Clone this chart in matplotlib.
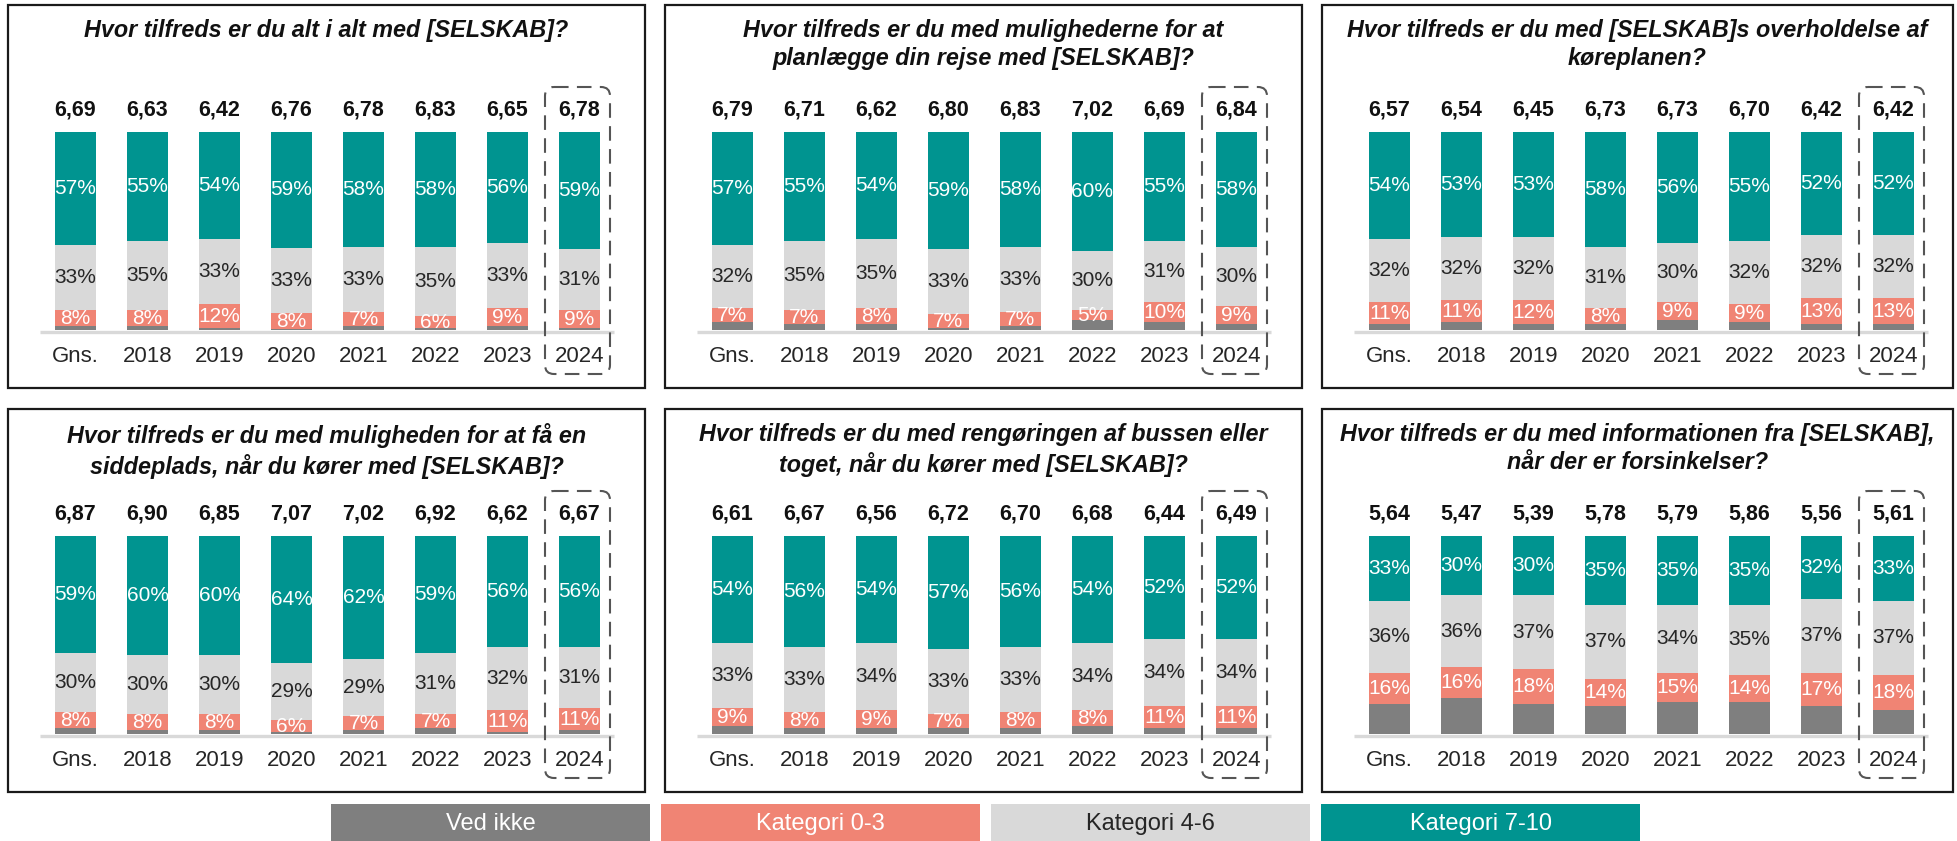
import matplotlib
matplotlib.use("Agg")
import matplotlib.pyplot as plt
from matplotlib.patches import Rectangle, FancyBboxPatch

W, H = 1957, 841

categories = ["Gns.", "2018", "2019", "2020", "2021", "2022", "2023", "2024"]

titles = [
    "Hvor tilfreds er du alt i alt med [SELSKAB]?",
    "Hvor tilfreds er du med mulighederne for at\nplanlægge din rejse med [SELSKAB]?",
    "Hvor tilfreds er du med [SELSKAB]s overholdelse af\nkøreplanen?",
    "Hvor tilfreds er du med muligheden for at få en\nsiddeplads, når du kører med [SELSKAB]?",
    "Hvor tilfreds er du med rengøringen af bussen eller\ntoget, når du kører med [SELSKAB]?",
    "Hvor tilfreds er du med informationen fra [SELSKAB],\nnår der er forsinkelser?",
]

# gennemsnit pr. spørgsmål
means = [
    ["6,69", "6,63", "6,42", "6,76", "6,78", "6,83", "6,65", "6,78"],
    ["6,79", "6,71", "6,62", "6,80", "6,83", "7,02", "6,69", "6,84"],
    ["6,57", "6,54", "6,45", "6,73", "6,73", "6,70", "6,42", "6,42"],
    ["6,87", "6,90", "6,85", "7,07", "7,02", "6,92", "6,62", "6,67"],
    ["6,61", "6,67", "6,56", "6,72", "6,70", "6,68", "6,44", "6,49"],
    ["5,64", "5,47", "5,39", "5,78", "5,79", "5,86", "5,56", "5,61"],
]

ved_ikke = [
    [2, 2, 1, 0.5, 2, 1, 2, 1],
    [4, 3, 3, 1, 2, 5, 4, 3],
    [3, 4, 3, 3, 5, 4, 3, 3],
    [3, 2, 2, 1, 2, 3, 1, 2],
    [4, 3, 3, 3, 3, 4, 3, 3],
    [15, 18, 15, 14, 16, 16, 14, 12],
]
kat_0_3 = [
    [8, 8, 12, 8, 7, 6, 9, 9],
    [7, 7, 8, 7, 7, 5, 10, 9],
    [11, 11, 12, 8, 9, 9, 13, 13],
    [8, 8, 8, 6, 7, 7, 11, 11],
    [9, 8, 9, 7, 8, 8, 11, 11],
    [16, 16, 18, 14, 15, 14, 17, 18],
]
kat_4_6 = [
    [33, 35, 33, 33, 33, 35, 33, 31],
    [32, 35, 35, 33, 33, 30, 31, 30],
    [32, 32, 32, 31, 30, 32, 32, 32],
    [30, 30, 30, 29, 29, 31, 32, 31],
    [33, 33, 34, 33, 33, 34, 34, 34],
    [36, 36, 37, 37, 34, 35, 37, 37],
]
kat_7_10 = [
    [57, 55, 54, 59, 58, 58, 56, 59],
    [57, 55, 54, 59, 58, 60, 55, 58],
    [54, 53, 53, 58, 56, 55, 52, 52],
    [59, 60, 60, 64, 62, 59, 56, 56],
    [54, 56, 54, 57, 56, 54, 52, 52],
    [33, 30, 30, 35, 35, 35, 32, 33],
]

legend_labels = ["Ved ikke", "Kategori 0-3", "Kategori 4-6", "Kategori 7-10"]

GRAY = "#7f7f7f"
SALMON = "#f08474"
LIGHT = "#d9d9d9"
TEAL = "#009490"
colors = [GRAY, SALMON, LIGHT, TEAL]
text_colors = ["white", "white", "#262626", "white"]

FONT = "Liberation Sans"
plt.rcParams["font.family"] = FONT

fig = plt.figure(figsize=(W / 100, H / 100), dpi=100)
bg = fig.add_axes([0, 0, 1, 1])
bg.set_xlim(0, W)
bg.set_ylim(H, 0)
bg.axis("off")

col_left = [8, 665, 1322]
col_right = [645, 1302, 1953]
row_top = [5, 409]
box_h = 383

for p in range(6):
    r, c = divmod(p, 3)
    L, R, T = col_left[c], col_right[c], row_top[r]

    # ramme
    bg.add_patch(Rectangle((L, T), R - L, box_h, fill=False, ec="#1a1a1a", lw=1.6))
    bg.text((L + R) / 2, T + 14, titles[p], ha="center", va="top", fontsize=16.8,
            fontweight="bold", fontstyle="italic", linespacing=1.3, color="#111111")

    # grundlinje
    bg.plot([L + 32, L + 606], [T + 326.5, T + 326.5], color=LIGHT, lw=2.4,
            solid_capstyle="butt", zorder=1)

    ax = fig.add_axes([(L + 32) / W, 1 - (T + 325) / H, 574 / W, 198 / H])
    ax.set_xlim((32 - 67.5) / 72, (606 - 67.5) / 72)
    ax.set_ylim(0, 100)
    ax.axis("off")

    x = list(range(len(categories)))
    series = [ved_ikke[p], kat_0_3[p], kat_4_6[p], kat_7_10[p]]
    bottom = [0] * len(categories)
    for k, vals in enumerate(series):
        ax.bar(x, vals, width=0.57, bottom=bottom, color=colors[k], edgecolor="none")
        if k > 0:
            for i, v in enumerate(vals):
                ax.text(i, bottom[i] + v / 2, f"{v}%", ha="center", va="center",
                        fontsize=15, color=text_colors[k])
        bottom = [b + v for b, v in zip(bottom, vals)]

    for i in x:
        cx = L + 67.5 + 72 * i
        bg.text(cx, T + 105, means[p][i], ha="center", va="center", fontsize=15.5,
                fontweight="bold", color="#111111")
        bg.text(cx, T + 351, categories[i], ha="center", va="center", fontsize=16,
                color="#262626")

    # markering af 2024
    cx = L + 67.5 + 72 * 7 - 2
    bg.add_patch(FancyBboxPatch((cx - 32.5, T + 82), 65, 287,
                                boxstyle="round,pad=0,rounding_size=9",
                                fill=False, ec="#555555", lw=1.5,
                                linestyle=(0, (7, 4))))

# legende
for k, lab in enumerate(legend_labels):
    x0 = 331 + 330 * k
    bg.add_patch(Rectangle((x0, 804), 319, 37, color=colors[k], ec="none"))
    bg.text(x0 + 159.5, 824, lab, ha="center", va="center", fontsize=17,
            color=text_colors[k])

fig.savefig("out.png", dpi=100)
